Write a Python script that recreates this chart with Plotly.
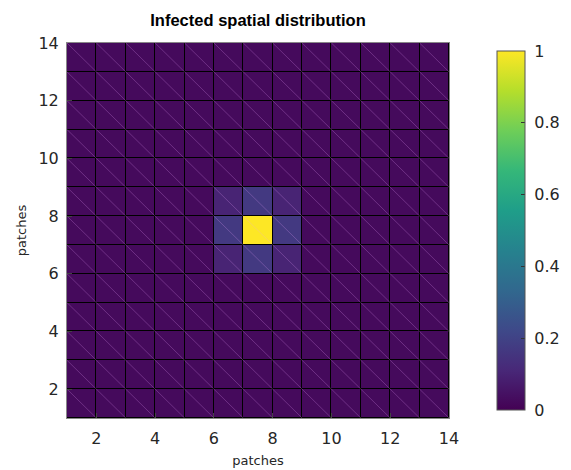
import plotly.graph_objects as go

# grid nodes (patch indices) and face values (face [x, x+1] x [y, y+1] colored by lower-left node)
x_nodes = list(range(1, 15))
y_nodes = list(range(1, 15))
b = 0.025
infected = [
    [b, b, b, b, b, b, b, b, b, b, b, b, b],  # y = 1
    [b, b, b, b, b, b, b, b, b, b, b, b, b],  # y = 2
    [b, b, b, b, b, b, b, b, b, b, b, b, b],  # y = 3
    [b, b, b, b, b, b, b, b, b, b, b, b, b],  # y = 4
    [b, b, b, b, b, b, b, b, b, b, b, b, b],  # y = 5
    [b, b, b, b, b, 0.1, 0.17, 0.1, b, b, b, b, b],  # y = 6
    [b, b, b, b, b, 0.17, 1.0, 0.17, b, b, b, b, b],  # y = 7
    [b, b, b, b, b, 0.1, 0.17, 0.1, b, b, b, b, b],  # y = 8
    [b, b, b, b, b, b, b, b, b, b, b, b, b],  # y = 9
    [b, b, b, b, b, b, b, b, b, b, b, b, b],  # y = 10
    [b, b, b, b, b, b, b, b, b, b, b, b, b],  # y = 11
    [b, b, b, b, b, b, b, b, b, b, b, b, b],  # y = 12
    [b, b, b, b, b, b, b, b, b, b, b, b, b],  # y = 13
]
tick_vals = [2, 4, 6, 8, 10, 12, 14]
cbar_ticks = [0, 0.2, 0.4, 0.6, 0.8, 1]
cbar_labels = ["0", "0.2", "0.4", "0.6", "0.8", "1"]

x_centers = [(x_nodes[i] + x_nodes[i + 1]) / 2 for i in range(len(x_nodes) - 1)]
y_centers = [(y_nodes[i] + y_nodes[i + 1]) / 2 for i in range(len(y_nodes) - 1)]

L, R, T, B = 67, 122, 43, 52
plot_w = 571 - L - R

fig = go.Figure()
fig.add_trace(go.Heatmap(
    x=x_centers, y=y_centers, z=infected,
    colorscale="Viridis", zmin=0, zmax=1,
    xgap=1, ygap=1,
    colorbar=dict(
        x=(497 - L) / plot_w, xanchor="left", xpad=0,
        y=0.5, yanchor="middle",
        len=1.01, lenmode="fraction", thickness=28,
        outlinecolor="#555555", outlinewidth=1,
        tickvals=cbar_ticks, ticktext=["\u00a0" + t for t in cbar_labels],
        ticks="inside", ticklen=4, tickcolor="#333333",
        tickfont=dict(family="DejaVu Sans", size=16, color="#262626"),
    ),
    hoverinfo="skip",
))

# faint triangle diagonals of each face
dx, dy = [], []
for i in range(len(x_nodes) - 1):
    for j in range(len(y_nodes) - 1):
        dx += [x_nodes[i], x_nodes[i + 1], None]
        dy += [y_nodes[j + 1], y_nodes[j], None]
fig.add_trace(go.Scatter(x=dx, y=dy, mode="lines",
                         line=dict(color="rgba(235,160,255,0.25)", width=1),
                         hoverinfo="skip", showlegend=False))

axis_common = dict(
    range=[1, 14], tickvals=tick_vals, ticks="inside", ticklen=5,
    tickcolor="#444444", showgrid=False, zeroline=False,
    showline=True, linecolor="#888888", mirror=True, linewidth=1,
    tickfont=dict(family="DejaVu Sans", size=16, color="#262626"),
    automargin=False,
)
fig.update_xaxes(**axis_common, ticklabelstandoff=6,
                 title=dict(text="patches", standoff=8,
                            font=dict(family="DejaVu Sans", size=13, color="#262626")))
fig.update_yaxes(**axis_common, ticklabelstandoff=4,
                 title=dict(text="patches", standoff=8,
                            font=dict(family="DejaVu Sans", size=13, color="#262626")))

fig.update_layout(
    width=571, height=470,
    margin=dict(l=L, r=R, t=T, b=B, autoexpand=False),
    plot_bgcolor="black", paper_bgcolor="white",
    title=dict(text="<b>Infected spatial distribution</b>", x=(67 + 449) / 2 / 571,
               xanchor="center", y=1 - 20 / 470, yanchor="middle",
               font=dict(family="Liberation Sans", size=16.5, color="black")),
    showlegend=False,
)

fig.write_html("out.html")
